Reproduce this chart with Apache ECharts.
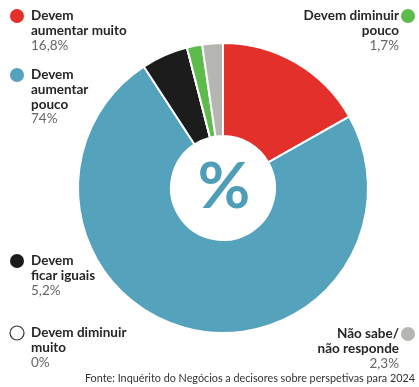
<!DOCTYPE html>
<html>
<head>
<meta charset="utf-8">
<script src="https://cdn.jsdelivr.net/npm/echarts@6/dist/echarts.min.js"></script>
<style>
  html, body { margin: 0; padding: 0; background: #fff; }
  #chart { width: 419px; height: 387px; }
</style>
</head>
<body>
<div id="chart"></div>
<script>
// Survey answers, clockwise from 12 o'clock
const categories = [
  'Devem\naumentar muito',
  'Devem\naumentar\npouco',
  'Devem\nficar iguais',
  'Devem diminuir\nmuito',
  'Devem diminuir\npouco',
  'Não sabe/\nnão responde'
];
const values = [16.8, 74, 5.2, 0, 1.7, 2.3];
const colors = ['#e3302a', '#55a2bc', '#1c1c1c', '#ffffff', '#5cbb4b', '#b5b5b2'];
const sourceText = 'Fonte: Inquérito do Negócios a decisores sobre perspetivas para 2024';

const fmt = v => String(v).replace('.', ',') + '%';

// Legend block placement: [side, first-line centre y]
const legendSpots = [
  ['left', 16], ['left', 75], ['left', 261],
  ['left', 333], ['right', 16], ['right', 334]
];

const LH = 14.6;
const FONT = 'Lato';
const graphics = [];
categories.forEach((name, i) => {
  const [side, cy] = legendSpots[i];
  const lines = name.split('\n').map(s => '{n|' + s + '}');
  lines.push('{v|' + fmt(values[i]) + '}');
  const left = side === 'left';
  graphics.push({
    type: 'circle',
    shape: { cx: left ? 17 : 408, cy: cy, r: 7 },
    style: {
      fill: colors[i],
      stroke: colors[i] === '#ffffff' ? '#333' : null,
      lineWidth: 1.2
    }
  });
  graphics.push({
    type: 'text',
    x: left ? 31 : 399,
    y: cy - LH / 2,
    style: {
      text: lines.join('\n'),
      align: left ? 'left' : 'right',
      verticalAlign: 'top',
      rich: {
        n: { fontFamily: FONT, fontWeight: 'bold', fontSize: 13.5, lineHeight: LH, fill: '#262626', align: left ? 'left' : 'right' },
        v: { fontFamily: FONT, fontWeight: 'normal', fontSize: 13.5, lineHeight: LH, fill: '#666666', align: left ? 'left' : 'right' }
      }
    }
  });
});

// Source line
graphics.push({
  type: 'text',
  x: 415, y: 379,
  style: {
    text: sourceText,
    align: 'right', verticalAlign: 'middle',
    fontFamily: FONT, fontSize: 10.8, fill: '#333'
  }
});

// Big percent sign in the hole
graphics.push({
  type: 'text',
  x: 224, y: 187,
  style: {
    text: '%',
    align: 'center', verticalAlign: 'middle',
    fontFamily: 'Lato', fontWeight: 'bold', fontSize: 64, fill: '#4f9db6'
  }
});

const chart = echarts.init(document.getElementById('chart'), null, { renderer: 'canvas' });
chart.setOption({
  backgroundColor: '#ffffff',
  animation: false,
  series: [{
    type: 'pie',
    center: [223, 188],
    radius: [52, 145],
    startAngle: 90,
    clockwise: true,
    avoidLabelOverlap: false,
    label: { show: false },
    labelLine: { show: false },
    emphasis: { disabled: true },
    itemStyle: { borderColor: '#ffffff', borderWidth: 2 },
    data: categories.map((c, i) => ({
      name: c, value: values[i], itemStyle: { color: colors[i] }
    }))
  }],
  graphic: graphics
});
</script>
</body>
</html>
